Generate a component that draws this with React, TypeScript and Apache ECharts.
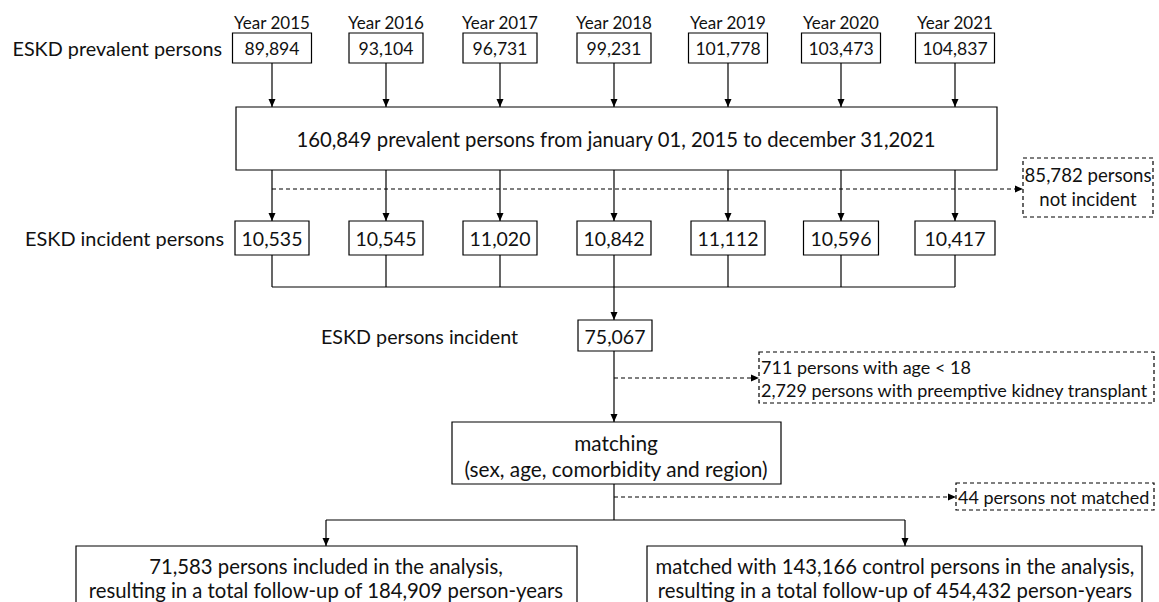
import React, { useEffect, useRef } from "react";
import * as echarts from "echarts";

// ---------- data ----------
const yearLabels = ["Year 2015", "Year 2016", "Year 2017", "Year 2018", "Year 2019", "Year 2020", "Year 2021"];
const prevalentByYear = [89894, 93104, 96731, 99231, 101778, 103473, 104837];
const incidentByYear = [10535, 10545, 11020, 10842, 11112, 10596, 10417];
const totalPrevalent = 160849;
const notIncident = 85782;
const totalIncident = 75067;
const under18 = 711;
const preemptiveTransplant = 2729;
const notMatched = 44;
const includedPersons = 71583;
const includedPersonYears = 184909;
const controlPersons = 143166;
const controlPersonYears = 454432;

// ---------- layout ----------
const colX = [272, 386, 500, 614, 728, 841, 955];
const topBoxW = [79, 74, 74, 74, 79, 79, 79];
const incBoxW = [74, 74, 74, 74, 74, 75, 80];
const FONT = "Lato";
const INK = "#000";

const fmt = (n: number) => n.toLocaleString("en-US");

function ln(x1: number, y1: number, x2: number, y2: number, dashed = false): any {
  return {
    type: "line",
    silent: true,
    shape: { x1, y1, x2, y2 },
    style: { stroke: INK, lineWidth: 1.2, lineDash: dashed ? [4, 3] : null },
  };
}
function head(x: number, y: number, dir: "down" | "right"): any {
  const pts =
    dir === "down"
      ? [[x - 3.5, y - 8], [x + 3.5, y - 8], [x, y]]
      : [[x - 8, y - 3.5], [x - 8, y + 3.5], [x, y]];
  return { type: "polygon", silent: true, shape: { points: pts }, style: { fill: INK, stroke: null } };
}
function box(x: number, y: number, w: number, h: number, dashed = false): any {
  return {
    type: "rect",
    silent: true,
    shape: { x, y, width: w, height: h },
    style: { fill: "#fff", stroke: INK, lineWidth: 1.2, lineDash: dashed ? [4, 3] : null },
  };
}
function txt(x: number, y: number, s: string, align: "left" | "center" | "right", size: number, lh = 24): any {
  return {
    type: "text",
    silent: true,
    x,
    y,
    style: {
      text: s,
      fill: "#111",
      fontFamily: FONT,
      fontSize: size,
      align,
      verticalAlign: "middle",
      lineHeight: lh,
    },
  };
}

function buildGraphics(): any[] {
  const g: any[] = [];
  // row 1: prevalent by year
  g.push(txt(222, 48, "ESKD prevalent persons", "right", 19.8));
  colX.forEach((cx, i) => {
    g.push(txt(cx, 22, yearLabels[i], "center", 17));
    g.push(ln(cx, 63, cx, 107));
    g.push(head(cx, 107, "down"));
    g.push(box(cx - topBoxW[i] / 2, 33, topBoxW[i], 30));
    g.push(txt(cx, 48, fmt(prevalentByYear[i]), "center", 17.6));
  });
  // big box
  g.push(box(236, 107, 761, 63));
  g.push(txt(616, 139, `${fmt(totalPrevalent)} prevalent persons from january 01, 2015 to december 31,2021`, "center", 20.3));
  // dashed exclusion
  g.push(ln(colX[0], 189, 1021, 189, true));
  g.push(head(1023, 189, "right"));
  g.push(box(1023, 158, 130, 59, true));
  g.push(txt(1088, 187, `${fmt(notIncident)} persons\nnot incident`, "center", 18.6, 24));
  // row 2: incident by year
  g.push(txt(224, 238, "ESKD incident persons", "right", 19.9));
  colX.forEach((cx, i) => {
    g.push(ln(cx, 170, cx, 221));
    g.push(head(cx, 221, "down"));
    g.push(ln(cx, 255, cx, 287));
    g.push(box(cx - incBoxW[i] / 2, 221, incBoxW[i], 34));
    g.push(txt(cx, 238, fmt(incidentByYear[i]), "center", 19.5));
  });
  g.push(ln(colX[0], 287, colX[6], 287));
  g.push(ln(614, 287, 614, 320));
  g.push(head(614, 320, "down"));
  // total incident
  g.push(txt(321, 336, "ESKD persons incident", "left", 19.7));
  g.push(box(578, 320, 74, 31));
  g.push(txt(615, 336, fmt(totalIncident), "center", 19.5));
  g.push(ln(614, 351, 614, 422));
  g.push(head(614, 422, "down"));
  g.push(ln(614, 378, 757, 378, true));
  g.push(head(759, 378, "right"));
  g.push(box(759, 352, 395, 51, true));
  g.push(
    txt(
      761,
      378,
      `${fmt(under18)} persons with age < 18\n${fmt(preemptiveTransplant)} persons with preemptive kidney transplant`,
      "left",
      18,
      23
    )
  );
  // matching
  g.push(box(452, 422, 329, 62));
  g.push(txt(616, 455, "matching\n(sex, age, comorbidity and region)", "center", 20.8, 26));
  g.push(ln(614, 484, 614, 520));
  g.push(ln(614, 497, 954, 497, true));
  g.push(head(956, 497, "right"));
  g.push(box(956, 483, 198, 27, true));
  g.push(txt(958, 497, `${notMatched} persons not matched`, "left", 18));
  // split
  g.push(ln(326, 520, 905, 520));
  g.push(ln(326, 520, 326, 546));
  g.push(head(326, 546, "down"));
  g.push(ln(905, 520, 905, 546));
  g.push(head(905, 546, "down"));
  g.push(box(76, 546, 501, 80));
  g.push(
    txt(
      326,
      578,
      `${fmt(includedPersons)} persons included in the analysis,\nresulting in a total follow-up of ${fmt(includedPersonYears)} person-years`,
      "center",
      20.3,
      24
    )
  );
  g.push(box(647, 546, 495, 80));
  g.push(
    txt(
      895,
      578,
      `matched with ${fmt(controlPersons)} control persons in the analysis,\nresulting in a total follow-up of ${fmt(controlPersonYears)} person-years`,
      "center",
      20.3,
      24
    )
  );
  return g;
}

export default function App() {
  const ref = useRef<HTMLDivElement>(null);
  useEffect(() => {
    if (!ref.current) return;
    const chart = echarts.init(ref.current, undefined, { renderer: "svg" });
    chart.setOption({
      animation: false,
      backgroundColor: "#fff",
      graphic: { elements: buildGraphics() },
    });
    return () => chart.dispose();
  }, []);
  return (
    <div
      ref={ref}
      style={{ position: "fixed", left: 0, top: 0, width: 1159, height: 602, background: "#fff" }}
    />
  );
}
